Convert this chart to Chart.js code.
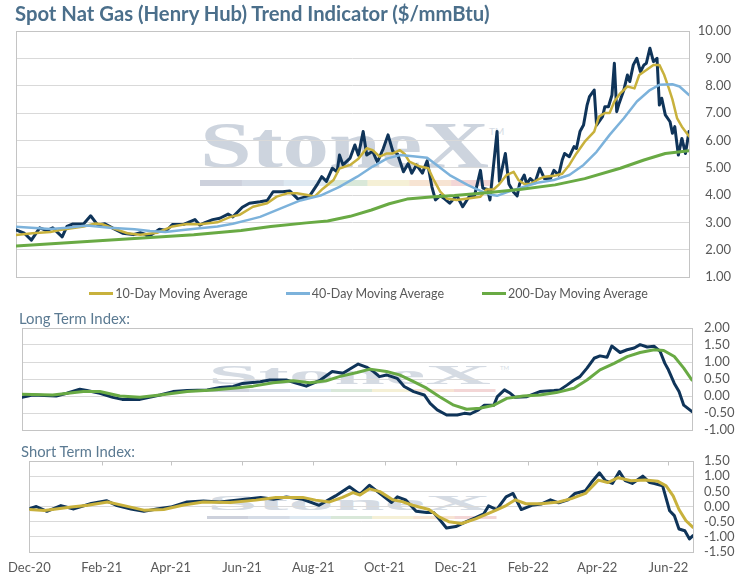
<!DOCTYPE html>
<html>
<head>
<meta charset="utf-8">
<script src="https://cdn.jsdelivr.net/npm/chart.js@4.4.1/dist/chart.umd.min.js"></script>
<style>
  html, body { margin:0; padding:0; background:#ffffff; }
  body { position:relative; width:737px; height:579px; overflow:hidden; font-family: Lato, "Open Sans", sans-serif; }
  #wm { position:absolute; left:0; top:0; z-index:0; }
  canvas { position:absolute; left:0; z-index:1; }
  .ttl { position:absolute; white-space:nowrap; line-height:1.2; z-index:2; }
  #legend { position:absolute; left:0; width:737px; top:284px; height:18px; display:flex; justify-content:center; align-items:center; gap:38px; z-index:2; font-size:12.5px; color:#595959; }
  .li { display:flex; align-items:center; white-space:nowrap; }
  .sw { width:24px; height:3px; margin-right:2px; }
</style>
</head>
<body>
<svg id="wm" width="737" height="579" xmlns="http://www.w3.org/2000/svg">
  <g font-family="Liberation Serif, DejaVu Serif, serif" font-weight="bold">
    <text x="200" y="167" font-size="66" textLength="289" lengthAdjust="spacingAndGlyphs" fill="#cdd4de">StoneX</text>
    <text x="208" y="384" font-size="28" textLength="283" lengthAdjust="spacingAndGlyphs" fill="#d5dbe3">StoneX</text>
    <text x="207" y="510" font-size="22" textLength="284" lengthAdjust="spacingAndGlyphs" fill="#d5dbe3">StoneX</text>
  </g>
  <g font-family="Lato, sans-serif" fill="#d6dce4">
    <text x="489" y="135" font-size="10">TM</text>
    <text x="500" y="370" font-size="6">TM</text>
  </g>
  <g id="wmbars"></g>
</svg>

<div class="ttl" id="title1" style="left:15px;top:1px;font-size:17px;font-weight:700;color:#4b6f8b;">Spot Nat Gas (Henry Hub) Trend Indicator ($/mmBtu)</div>
<canvas id="c1" width="737" height="290" style="top:0px"></canvas>
<div id="legend"></div>
<div class="ttl" id="title2" style="left:19px;top:310px;font-size:13px;color:#5b7a92;">Long Term Index:</div>
<canvas id="c2" width="737" height="122" style="top:318px"></canvas>
<div class="ttl" id="title3" style="left:21px;top:443px;font-size:13px;color:#5b7a92;">Short Term Index:</div>
<canvas id="c3" width="737" height="127" style="top:452px"></canvas>

<script>
// ---------------- DATA (x = days since 1 Dec 2020) ----------------
const xMin = 0, xMax = 568;
const tickDays   = [0, 62, 121, 182, 243, 304, 365, 427, 486, 547];
const tickLabels = ['Dec-20','Feb-21','Apr-21','Jun-21','Aug-21','Oct-21','Dec-21','Feb-22','Apr-22','Jun-22'];

// Spot price ($/mmBtu)
const spotDays = [0,7,13,20,26,31,39,43,48,57,63,69,75,82,90,99,105,110,111,121,127,132,141,151,155,160,166,172,179,183,191,197,206,212,217,225,231,238,248,254,258,262,267,271,273,276,282,286,289,293,296,301,305,310,314,318,322,327,331,334,338,343,347,351,354,358,362,366,372,377,383,387,392,394,398,400,406,408,413,416,420,423,425,429,431,434,438,442,446,451,454,458,461,463,467,471,473,476,479,482,484,488,490,495,497,500,503,505,507,509,513,516,518,521,524,527,530,532,535,538,541,543,545,548,552,554,556,559,562,565,568];
const spotVals = [2.72,2.6,2.35,2.8,2.7,2.8,2.47,2.85,2.94,2.94,3.24,2.9,2.95,2.78,2.6,2.55,2.62,2.55,2.45,2.75,2.7,2.92,2.92,3.1,2.9,3.0,3.1,3.15,3.3,3.2,3.55,3.7,3.75,3.8,4.12,4.12,4.15,3.85,3.98,4.37,4.67,4.5,4.98,4.85,5.46,5.1,5.35,5.83,5.45,6.32,5.46,5.6,5.2,5.7,6.2,5.6,5.5,4.85,5.15,4.8,5.1,4.8,5.25,4.3,3.82,3.98,3.85,3.7,3.98,3.57,3.98,3.98,4.9,4.25,4.2,3.82,6.32,4.5,5.52,4.4,4.1,3.97,4.4,4.73,4.4,4.6,4.45,4.98,4.6,4.6,4.9,4.73,5.28,5.52,5.4,5.77,5.7,6.32,6.56,7.29,7.6,7.84,6.56,6.87,7.23,7.23,7.66,8.82,7.05,7.35,7.84,8.39,8.15,8.76,9.0,8.51,8.76,8.82,9.37,8.88,9.0,7.29,7.54,6.93,6.68,6.26,6.5,5.46,6.07,5.52,6.32];

// 10-day moving average
const ma10Days = [0,14,29,37,57,67,73,82,94,105,119,132,144,155,170,181,189,200,212,220,229,237,246,252,259,268,273,282,289,296,301,307,313,318,324,328,332,341,348,352,358,364,372,383,392,397,403,408,414,420,424,429,434,440,446,454,461,467,473,480,488,492,497,501,505,510,516,522,526,532,538,543,547,551,554,558,562,568];
const ma10Vals = [2.54,2.6,2.65,2.72,2.85,2.96,2.93,2.78,2.6,2.55,2.62,2.85,2.94,2.93,3.0,3.2,3.28,3.57,3.7,3.94,4.06,4.06,4.0,3.94,4.23,4.55,4.97,5.1,5.33,5.71,5.64,5.4,5.52,5.52,5.64,5.5,5.22,5.04,4.98,4.6,4.12,3.86,3.82,3.88,3.94,4.2,4.2,4.4,4.73,4.85,4.55,4.4,4.4,4.55,4.67,4.7,4.78,5.1,5.52,5.95,6.32,6.87,7.0,7.0,7.42,7.72,7.97,7.9,8.39,8.57,8.76,8.76,8.4,7.9,7.5,6.8,6.5,6.15];

// 40-day moving average
const ma40Days = [0,29,43,60,79,100,113,126,141,155,170,183,197,206,223,240,257,273,288,301,313,324,335,347,355,366,381,392,400,406,414,425,440,454,467,479,490,501,513,524,535,543,554,560,568];
const ma40Vals = [2.84,2.76,2.8,2.88,2.8,2.75,2.68,2.65,2.72,2.78,2.85,2.95,3.1,3.2,3.5,3.8,3.98,4.3,4.67,5.04,5.33,5.46,5.42,5.36,5.1,4.73,4.37,4.15,4.02,3.97,4.1,4.25,4.45,4.55,4.73,5.1,5.58,6.2,6.81,7.42,7.84,8.03,8.05,7.97,7.66];

// 200-day moving average
const ma200Days = [0,70,150,190,215,245,263,282,300,315,330,350,370,395,425,455,480,510,530,548,568];
const ma200Vals = [2.13,2.33,2.55,2.7,2.85,2.98,3.05,3.22,3.45,3.68,3.85,3.93,3.98,4.07,4.2,4.37,4.6,4.98,5.28,5.52,5.62];

// Long term index and its average
const ltIdxDays = [0,9,29,38,49,55,66,77,85,100,108,117,128,140,157,168,179,187,202,210,224,233,241,253,263,272,285,292,298,303,309,318,324,332,341,346,352,360,369,375,380,387,392,400,403,409,414,418,428,439,451,456,462,468,473,479,485,490,496,500,507,513,519,524,530,536,541,545,548,553,557,561,568];
const ltIdxVals = [-0.04,0.03,0.0,0.08,0.2,0.16,0.08,-0.04,-0.1,-0.1,-0.04,0.03,0.13,0.16,0.18,0.25,0.28,0.37,0.42,0.47,0.47,0.37,0.29,0.47,0.72,0.67,0.94,0.85,0.72,0.57,0.62,0.52,0.28,0.13,0.03,-0.22,-0.41,-0.56,-0.56,-0.51,-0.53,-0.41,-0.27,-0.27,-0.02,0.18,0.08,-0.04,-0.02,0.13,0.16,0.18,0.32,0.47,0.57,0.82,1.11,1.18,1.14,1.47,1.28,1.36,1.41,1.51,1.44,1.46,1.31,0.96,0.77,0.37,0.13,-0.27,-0.46];
const ltMaDays = [0,26,52,66,83,100,117,140,162,179,196,213,230,244,258,269,284,295,309,320,332,343,354,366,377,388,400,411,425,439,453,468,479,490,502,513,524,536,544,553,561,568];
const ltMaVals = [0.05,0.03,0.13,0.13,0.0,-0.04,0.03,0.13,0.18,0.23,0.29,0.39,0.45,0.39,0.45,0.57,0.69,0.79,0.72,0.62,0.42,0.23,-0.02,-0.27,-0.39,-0.36,-0.27,-0.07,0.0,0.03,0.1,0.23,0.47,0.77,0.96,1.16,1.28,1.36,1.34,1.16,0.82,0.47];

// Short term index and its average
const stIdxDays = [0,6,15,27,38,53,66,75,87,98,109,121,135,149,163,177,198,209,220,234,248,262,274,283,291,301,310,315,322,331,340,346,352,357,365,374,382,389,393,400,408,414,421,430,438,446,453,461,467,476,481,488,493,499,505,510,516,525,531,535,542,548,552,556,561,565,568];
const stIdxVals = [-0.07,0.0,-0.16,0.03,-0.08,0.1,0.19,0.03,-0.08,-0.16,-0.08,-0.02,0.15,0.18,0.15,0.21,0.3,0.24,0.31,0.24,0.04,0.35,0.65,0.4,0.7,0.4,0.13,0.32,0.22,-0.16,-0.2,-0.2,-0.47,-0.71,-0.66,-0.5,-0.37,-0.24,0.02,-0.1,0.32,0.43,-0.1,0.04,0.08,0.22,0.12,0.22,0.43,0.52,0.79,1.11,0.85,0.76,1.15,0.85,0.76,1.0,0.79,0.76,0.68,-0.14,-0.3,-0.74,-0.8,-1.07,-0.96];
const stMaDays = [0,13,36,50,67,81,98,115,132,149,172,194,211,234,245,257,268,277,283,291,300,311,319,328,342,351,359,370,382,391,399,408,416,425,438,453,464,476,487,495,504,515,527,538,545,551,556,562,568];
const stMaVals = [-0.1,-0.13,-0.02,0.04,0.15,0.03,-0.12,-0.1,0.05,0.15,0.13,0.21,0.3,0.3,0.21,0.15,0.3,0.46,0.38,0.58,0.49,0.22,0.16,0.04,-0.1,-0.35,-0.5,-0.56,-0.41,-0.26,-0.13,0.03,0.22,0.09,0.09,0.15,0.26,0.43,0.87,0.79,0.95,0.85,0.87,0.83,0.68,0.35,-0.1,-0.47,-0.69];

const legendNames  = ['10-Day Moving Average', '40-Day Moving Average', '200-Day Moving Average'];

// ---------------- STYLE ----------------
const NAVY = '#0f3459', GOLD = '#c8b13c', BLUE = '#7cb2db', GREEN = '#69aa44';
const GRID = '#d9d9d9', FRAME = '#c4c4c4', TXT = '#595959';
const FONT = { family: 'Lato, "Open Sans", sans-serif', size: 13 };

// watermark colour bars
(function(){
  const cols = ['#cdd1dc','#d5dce6','#dde8f1','#d9e8d9','#f5f0d6','#f7e4d3','#f3d6d6'];
  const bars = [[200,493,180,6],[208,495,389,3],[207,496,516,3]];
  const g = document.getElementById('wmbars');
  bars.forEach(b => {
    const w = (b[1]-b[0]) / cols.length;
    cols.forEach((c,i) => {
      const r = document.createElementNS('http://www.w3.org/2000/svg','rect');
      r.setAttribute('x', b[0] + i*w); r.setAttribute('y', b[2]);
      r.setAttribute('width', w + 0.5); r.setAttribute('height', b[3]);
      r.setAttribute('fill', c);
      g.appendChild(r);
    });
  });
})();

// fit title widths by scaling the font size
function fitWidth(id, target){
  const el = document.getElementById(id);
  const w = el.getBoundingClientRect().width;
  const fs = parseFloat(el.style.fontSize);
  el.style.fontSize = (fs * target / w) + 'px';
}
fitWidth('title1', 475);
fitWidth('title2', 111);
fitWidth('title3', 114);

// legend
const legendColors = [GOLD, BLUE, GREEN];
const lg = document.getElementById('legend');
legendNames.forEach((n,i) => {
  const it = document.createElement('div'); it.className = 'li';
  const sw = document.createElement('div'); sw.className = 'sw'; sw.style.background = legendColors[i];
  const tx = document.createElement('span'); tx.textContent = n;
  it.appendChild(sw); it.appendChild(tx); lg.appendChild(it);
});

function pts(days, vals){ return days.map((d,i) => ({x:d, y:vals[i]})); }
function lineDs(label, days, vals, color, width){
  return { label, data: pts(days, vals), borderColor: color, backgroundColor: color, borderWidth: width,
           pointRadius: 0, pointHoverRadius: 0, tension: 0, fill: false, borderJoinStyle: 'round', borderCapStyle: 'round' };
}

const framePlugin = {
  id: 'frame',
  beforeDatasetsDraw(chart, args, opts){
    const ctx = chart.ctx, a = chart.chartArea;
    ctx.save();
    ctx.strokeStyle = FRAME; ctx.lineWidth = 1;
    const l = Math.round(a.left)+0.5, t = Math.round(a.top)+0.5;
    ctx.strokeRect(l, t, Math.round(a.right) - Math.round(a.left), Math.round(a.bottom) - Math.round(a.top));
    if (opts.topTicks){
      const xs = chart.scales.x;
      xs.ticks.forEach(tk => {
        const px = Math.round(xs.getPixelForValue(tk.value)) + 0.5;
        ctx.beginPath(); ctx.moveTo(px, t); ctx.lineTo(px, t + 4); ctx.stroke();
      });
    }
    ctx.restore();
  }
};

function build(id, datasets, o){
  return new Chart(document.getElementById(id), {
    type: 'line',
    data: { datasets },
    plugins: [framePlugin],
    options: {
      responsive: false, animation: false, events: [],
      layout: { padding: o.pad },
      plugins: { legend: { display: false }, tooltip: { enabled: false }, frame: { topTicks: !!o.topTicks } },
      scales: {
        x: {
          type: 'linear', min: xMin, max: xMax, display: !!o.showX,
          grid: { display: false, drawTicks: false }, border: { display: false },
          afterBuildTicks: s => { s.ticks = tickDays.map(v => ({ value: v })); },
          afterFit: s => { if (o.xHeight) s.height = o.xHeight; },
          ticks: { autoSkip: false, maxRotation: 0, minRotation: 0, padding: 8, color: TXT, font: FONT,
                   callback: (v, i) => tickLabels[i] }
        },
        y: {
          position: 'right', min: o.ymin, max: o.ymax,
          afterFit: s => { s.width = o.yWidth; s.paddingTop = 0; s.paddingBottom = 0; },
          grid: { color: GRID, drawTicks: false, lineWidth: 1 }, border: { display: false },
          ticks: { stepSize: o.step, autoSkip: false, padding: o.yPad, crossAlign: o.cross, color: TXT, font: FONT,
                   callback: v => Number(v).toFixed(2) }
        }
      }
    }
  });
}

build('c1', [
  lineDs('200-Day Moving Average', ma200Days, ma200Vals, GREEN, 3),
  lineDs('40-Day Moving Average', ma40Days, ma40Vals, BLUE, 2.5),
  lineDs('10-Day Moving Average', ma10Days, ma10Vals, GOLD, 2.5),
  lineDs('Spot', spotDays, spotVals, NAVY, 3)
], { pad: { left: 16, top: 31, right: 6, bottom: 13 }, ymin: 1, ymax: 10, step: 1, yWidth: 42, yPad: 11, cross: 'far' });

build('c2', [
  lineDs('Long Term Average', ltMaDays, ltMaVals, GREEN, 3),
  lineDs('Long Term Index', ltIdxDays, ltIdxVals, NAVY, 3)
], { pad: { left: 22, top: 10, right: 0, bottom: 10 }, ymin: -1, ymax: 2, step: 0.5, yWidth: 45, yPad: 12, cross: 'near' });

build('c3', [
  lineDs('Short Term Average', stMaDays, stMaVals, GOLD, 3),
  lineDs('Short Term Index', stIdxDays, stIdxVals, NAVY, 3)
], { pad: { left: 24, top: 9, right: 0, bottom: 0 }, ymin: -1.5, ymax: 1.5, step: 0.5, yWidth: 44, yPad: 11, cross: 'near',
     showX: true, xHeight: 27, topTicks: true });
</script>
</body>
</html>
